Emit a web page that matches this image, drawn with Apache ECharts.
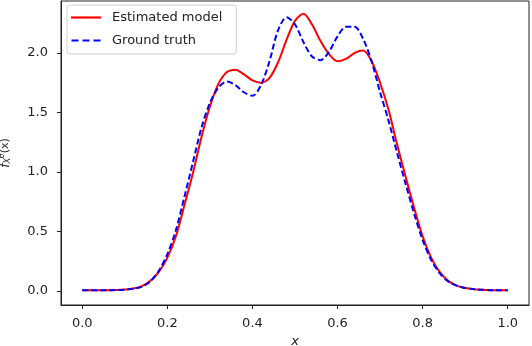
<!DOCTYPE html>
<html>
<head>
<meta charset="utf-8">
<script src="https://cdn.jsdelivr.net/npm/echarts@6/dist/echarts.min.js"></script>
<style>
html,body{margin:0;padding:0;background:#fff;}
#chart{width:532px;height:346px;}
</style>
</head>
<body>
<div id="chart"></div>
<script>
var xValues = [0.00,0.02,0.04,0.06,0.08,0.10,0.12,0.14,0.16,0.18,0.20,0.22,0.24,0.26,0.28,0.30,0.32,0.34,0.36,0.38,0.40,0.42,0.44,0.46,0.48,0.50,0.52,0.54,0.56,0.58,0.60,0.62,0.64,0.66,0.68,0.70,0.72,0.74,0.76,0.78,0.80,0.82,0.84,0.86,0.88,0.90,0.92,0.94,0.96,0.98,1.00];
var estimatedModel = [0.005,0.005,0.005,0.006,0.008,0.012,0.02,0.04,0.085,0.16,0.28,0.46,0.72,0.99,1.29,1.55,1.74,1.84,1.86,1.82,1.77,1.75,1.79,1.92,2.11,2.27,2.33,2.24,2.10,1.99,1.93,1.95,2.00,2.02,1.93,1.75,1.52,1.23,0.96,0.70,0.46,0.28,0.16,0.085,0.045,0.025,0.015,0.01,0.007,0.005,0.005];
var groundTruth = [0.005,0.005,0.005,0.006,0.008,0.011,0.018,0.035,0.08,0.17,0.31,0.51,0.79,1.08,1.37,1.58,1.71,1.76,1.73,1.67,1.64,1.73,1.93,2.19,2.30,2.24,2.09,1.97,1.94,2.01,2.14,2.22,2.22,2.12,1.93,1.67,1.43,1.16,0.90,0.65,0.43,0.26,0.15,0.08,0.045,0.025,0.016,0.01,0.007,0.006,0.005];
var xTicks = [0.0,0.2,0.4,0.6,0.8,1.0];
var yTicks = [0.0,0.5,1.0,1.5,2.0];
var seriesNames = ['Estimated model','Ground truth'];

function pairs(ys){ return xValues.map(function(x,i){ return [x, ys[i]]; }); }

var chart = echarts.init(document.getElementById('chart'), null, {renderer:'canvas'});
var textColor = '#222';
var font = 'DejaVu Sans';
chart.setOption({
  animation:false,
  backgroundColor:'#fff',
  grid:{left:61,right:3,top:1,bottom:41,show:true,borderColor:'#222',borderWidth:1,backgroundColor:'transparent',
    outerBoundsMode:'none',containLabel:false},
  legend:{
    data:[
      {name:seriesNames[0],icon:'path://M0,0h30v2.2h-30z'},
      {name:seriesNames[1],icon:'path://M0,0h7v2.2h-7z M11,0h7v2.2h-7z M22,0h7v2.2h-7z'}
    ],
    orient:'vertical',
    left:67, top:5,
    itemWidth:30, itemHeight:2.2,
    itemGap:10,
    padding:[6,14,7,4],
    borderColor:'#d0d0d0', borderWidth:1, borderRadius:3,
    backgroundColor:'rgba(255,255,255,0.8)',
    textStyle:{fontFamily:font,fontSize:13,color:textColor,padding:[0,0,0,6]}
  },
  xAxis:{
    type:'value', min:-0.05, max:1.05,
    name:'x', nameLocation:'middle', nameGap:27,
    nameTextStyle:{fontFamily:font,fontSize:13,fontStyle:'italic',color:textColor},
    axisLine:{show:true,onZero:false,lineStyle:{color:'#222',width:1}},
    axisTick:{show:true,inside:false,length:4,customValues:xTicks,lineStyle:{color:'#222'}},
    axisLabel:{show:true,margin:12,fontFamily:font,fontSize:13,color:textColor,customValues:xTicks,
      formatter:function(v){return v.toFixed(1);}},
    splitLine:{show:false}
  },
  yAxis:{
    type:'value', min:-0.118, max:2.437,
    name:'{i|f}{s|X}{t|θ}{n|(x)}', nameLocation:'middle', nameGap:48, nameRotate:90,
    nameTextStyle:{fontFamily:font,fontSize:11,color:textColor,
      rich:{
        i:{fontFamily:font,fontSize:12,fontStyle:'italic',color:textColor},
        s:{fontFamily:font,fontSize:8,fontStyle:'italic',color:textColor,padding:[5,0,0,0]},
        t:{fontFamily:font,fontSize:8,fontStyle:'italic',color:textColor,padding:[0,0,7,0]},
        n:{fontFamily:font,fontSize:11,color:textColor}
      }},
    axisLine:{show:true,onZero:false,lineStyle:{color:'#222',width:1}},
    axisTick:{show:true,inside:false,length:4,customValues:yTicks,lineStyle:{color:'#222'}},
    axisLabel:{show:true,margin:13,fontFamily:font,fontSize:13,color:textColor,customValues:yTicks,
      formatter:function(v){return v.toFixed(1);}},
    splitLine:{show:false}
  },
  series:[
    {name:seriesNames[0],type:'line',data:pairs(estimatedModel),showSymbol:false,symbol:'none',smooth:0.3,
      lineStyle:{color:'#ff0000',width:2},itemStyle:{color:'#ff0000'}},
    {name:seriesNames[1],type:'line',data:pairs(groundTruth),showSymbol:false,symbol:'none',smooth:0.3,
      lineStyle:{color:'#0000ff',width:2,type:[6,3]},itemStyle:{color:'#0000ff'}}
  ]
});
</script>
</body>
</html>
